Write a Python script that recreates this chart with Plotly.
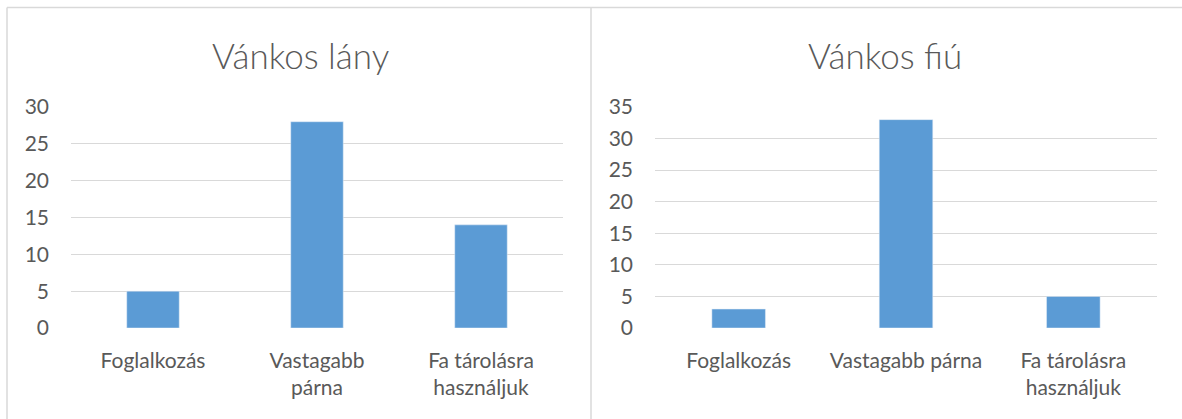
import plotly.graph_objects as go

# --- data ---
categories_girl = ["Foglalkozás", "Vastagabb<br>párna", "Fa tárolásra<br>használjuk"]
values_girl = [5, 28, 14]
categories_boy = ["Foglalkozás", "Vastagabb párna", "Fa tárolásra<br>használjuk"]
values_boy = [3, 33, 5]
titles = ["Vánkos lány", "Vánkos fiú"]

W, H = 1182, 419
bar_color = "#5b9bd5"
grid_color = "#d9d9d9"
text_color = "#595959"
font_family = "Lato, Open Sans, sans-serif"

fig = go.Figure()

fig.add_trace(go.Bar(x=categories_girl, y=values_girl, marker_color=bar_color,
                     width=0.32, xaxis="x", yaxis="y", showlegend=False))
fig.add_trace(go.Bar(x=categories_boy, y=values_boy, marker_color=bar_color,
                     width=0.32, xaxis="x2", yaxis="y2", showlegend=False))

ydom = [1 - 328 / H, 1 - 107 / H]
axis_common = dict(showline=False, zeroline=False, ticks="", automargin=False,
                   tickfont=dict(size=21, color=text_color, family=font_family))
ycommon = dict(axis_common, showgrid=True, gridcolor=grid_color, gridwidth=1,
               dtick=5, ticklabelstandoff=21)

fig.update_layout(
    width=W, height=H,
    margin=dict(l=0, r=0, t=0, b=0),
    paper_bgcolor="white", plot_bgcolor="white",
    font=dict(family=font_family, color=text_color),
    xaxis=dict(axis_common, domain=[71 / W, 563 / W], showgrid=False, anchor="y",
               ticklabelstandoff=18),
    yaxis=dict(ycommon, domain=ydom, range=[0, 30], anchor="x"),
    xaxis2=dict(axis_common, domain=[655 / W, 1157 / W], showgrid=False, anchor="y2",
                ticklabelstandoff=18),
    yaxis2=dict(ycommon, domain=ydom, range=[0, 35], anchor="x2"),
    shapes=[
        # chart borders
        dict(type="line", xref="paper", yref="paper", x0=7 / W, x1=1,
             y0=1 - 7.5 / H, y1=1 - 7.5 / H, line=dict(color=grid_color, width=1.5)),
        dict(type="line", xref="paper", yref="paper", x0=7 / W, x1=7 / W,
             y0=0, y1=1 - 7.5 / H, line=dict(color=grid_color, width=1.5)),
        dict(type="line", xref="paper", yref="paper", x0=591 / W, x1=591 / W,
             y0=0, y1=1 - 7.5 / H, line=dict(color=grid_color, width=1.5)),
    ],
    annotations=[
        dict(text=titles[0], x=300 / W, y=1 - 55 / H, xref="paper", yref="paper",
             xanchor="center", yanchor="middle", showarrow=False,
             font=dict(size=35, color=text_color, family=font_family, weight=300)),
        dict(text=titles[1], x=885 / W, y=1 - 55 / H, xref="paper", yref="paper",
             xanchor="center", yanchor="middle", showarrow=False,
             font=dict(size=35, color=text_color, family=font_family, weight=300)),
    ],
)

fig.write_html("out.html", config={"displayModeBar": False},
               post_script="document.body.style.margin='0px';")
